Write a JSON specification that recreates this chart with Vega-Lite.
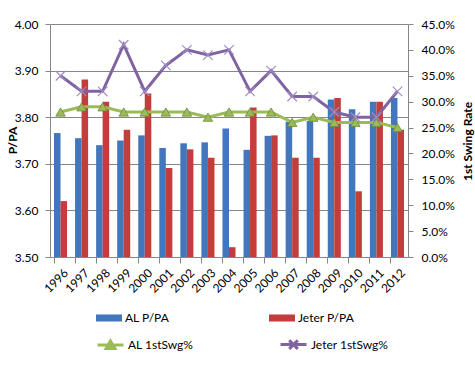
{
  "$schema": "https://vega.github.io/schema/vega-lite/v6.json",
  "width": 358,
  "height": 233,
  "autosize": "none",
  "padding": {"left": 50, "top": 24, "right": 67, "bottom": 109},
  "background": "white",
  "datasets": {
    "ppa": [
      {"year": "1996", "series": "AL P/PA", "value": 3.766}, {"year": "1996", "series": "Jeter P/PA", "value": 3.620},
      {"year": "1997", "series": "AL P/PA", "value": 3.755}, {"year": "1997", "series": "Jeter P/PA", "value": 3.881},
      {"year": "1998", "series": "AL P/PA", "value": 3.740}, {"year": "1998", "series": "Jeter P/PA", "value": 3.833},
      {"year": "1999", "series": "AL P/PA", "value": 3.750}, {"year": "1999", "series": "Jeter P/PA", "value": 3.773},
      {"year": "2000", "series": "AL P/PA", "value": 3.761}, {"year": "2000", "series": "Jeter P/PA", "value": 3.851},
      {"year": "2001", "series": "AL P/PA", "value": 3.734}, {"year": "2001", "series": "Jeter P/PA", "value": 3.691},
      {"year": "2002", "series": "AL P/PA", "value": 3.744}, {"year": "2002", "series": "Jeter P/PA", "value": 3.731},
      {"year": "2003", "series": "AL P/PA", "value": 3.746}, {"year": "2003", "series": "Jeter P/PA", "value": 3.713},
      {"year": "2004", "series": "AL P/PA", "value": 3.776}, {"year": "2004", "series": "Jeter P/PA", "value": 3.521},
      {"year": "2005", "series": "AL P/PA", "value": 3.730}, {"year": "2005", "series": "Jeter P/PA", "value": 3.821},
      {"year": "2006", "series": "AL P/PA", "value": 3.760}, {"year": "2006", "series": "Jeter P/PA", "value": 3.761},
      {"year": "2007", "series": "AL P/PA", "value": 3.790}, {"year": "2007", "series": "Jeter P/PA", "value": 3.713},
      {"year": "2008", "series": "AL P/PA", "value": 3.792}, {"year": "2008", "series": "Jeter P/PA", "value": 3.713},
      {"year": "2009", "series": "AL P/PA", "value": 3.838}, {"year": "2009", "series": "Jeter P/PA", "value": 3.841},
      {"year": "2010", "series": "AL P/PA", "value": 3.817}, {"year": "2010", "series": "Jeter P/PA", "value": 3.641},
      {"year": "2011", "series": "AL P/PA", "value": 3.833}, {"year": "2011", "series": "Jeter P/PA", "value": 3.833},
      {"year": "2012", "series": "AL P/PA", "value": 3.841}, {"year": "2012", "series": "Jeter P/PA", "value": 3.773}
    ],
    "swg": [
      {"year": "1996", "series": "AL 1stSwg%", "value": 0.28}, {"year": "1996", "series": "Jeter 1stSwg%", "value": 0.35},
      {"year": "1997", "series": "AL 1stSwg%", "value": 0.29}, {"year": "1997", "series": "Jeter 1stSwg%", "value": 0.32},
      {"year": "1998", "series": "AL 1stSwg%", "value": 0.29}, {"year": "1998", "series": "Jeter 1stSwg%", "value": 0.32},
      {"year": "1999", "series": "AL 1stSwg%", "value": 0.28}, {"year": "1999", "series": "Jeter 1stSwg%", "value": 0.41},
      {"year": "2000", "series": "AL 1stSwg%", "value": 0.28}, {"year": "2000", "series": "Jeter 1stSwg%", "value": 0.32},
      {"year": "2001", "series": "AL 1stSwg%", "value": 0.28}, {"year": "2001", "series": "Jeter 1stSwg%", "value": 0.37},
      {"year": "2002", "series": "AL 1stSwg%", "value": 0.28}, {"year": "2002", "series": "Jeter 1stSwg%", "value": 0.40},
      {"year": "2003", "series": "AL 1stSwg%", "value": 0.27}, {"year": "2003", "series": "Jeter 1stSwg%", "value": 0.39},
      {"year": "2004", "series": "AL 1stSwg%", "value": 0.28}, {"year": "2004", "series": "Jeter 1stSwg%", "value": 0.40},
      {"year": "2005", "series": "AL 1stSwg%", "value": 0.28}, {"year": "2005", "series": "Jeter 1stSwg%", "value": 0.32},
      {"year": "2006", "series": "AL 1stSwg%", "value": 0.28}, {"year": "2006", "series": "Jeter 1stSwg%", "value": 0.36},
      {"year": "2007", "series": "AL 1stSwg%", "value": 0.26}, {"year": "2007", "series": "Jeter 1stSwg%", "value": 0.31},
      {"year": "2008", "series": "AL 1stSwg%", "value": 0.27}, {"year": "2008", "series": "Jeter 1stSwg%", "value": 0.31},
      {"year": "2009", "series": "AL 1stSwg%", "value": 0.26}, {"year": "2009", "series": "Jeter 1stSwg%", "value": 0.28},
      {"year": "2010", "series": "AL 1stSwg%", "value": 0.26}, {"year": "2010", "series": "Jeter 1stSwg%", "value": 0.27},
      {"year": "2011", "series": "AL 1stSwg%", "value": 0.26}, {"year": "2011", "series": "Jeter 1stSwg%", "value": 0.27},
      {"year": "2012", "series": "AL 1stSwg%", "value": 0.25}, {"year": "2012", "series": "Jeter 1stSwg%", "value": 0.32}
    ]
  },
  "layer": [
    {
      "data": {"name": "ppa"},
      "mark": {"type": "bar"},
      "encoding": {
        "x": {
          "field": "year", "type": "nominal", "sort": null,
          "scale": {"paddingInner": 0.38, "paddingOuter": 0.19},
          "axis": {"title": null, "labelAngle": -45, "bandPosition": 0, "labelOffset": 2, "tickSize": 6, "labelPadding": 4, "grid": false}
        },
        "xOffset": {"field": "series", "type": "nominal", "sort": null, "scale": {"paddingInner": 0, "paddingOuter": 0}},
        "y": {
          "field": "value", "type": "quantitative",
          "scale": {"domain": [3.5, 4.0], "zero": false, "nice": false},
          "axis": {"orient": "left", "title": "P/PA", "values": [3.5, 3.6, 3.7, 3.8, 3.9, 4.0], "format": ".2f", "tickSize": 5, "labelPadding": 7, "grid": true, "titleAngle": 270, "titleX": -38, "titleY": 116, "titleAlign": "center", "titleBaseline": "middle"}
        },
        "y2": {"datum": 3.5},
        "fill": {
          "field": "series", "type": "nominal",
          "scale": {"domain": ["AL P/PA", "Jeter P/PA"], "range": ["#4277BD", "#C23D3B"]},
          "legend": {
            "title": null, "orient": "none", "legendX": 46, "legendY": 281, "direction": "horizontal", "columns": 2,
            "columnPadding": 99, "padding": 0, "symbolType": "M-1,-0.27H1V0.27H-1Z", "symbolSize": 676,
            "symbolStrokeWidth": 0, "labelOffset": 3
          }
        }
      }
    },
    {
      "data": {"name": "swg"},
      "encoding": {
        "x": {"field": "year", "type": "nominal", "sort": null},
        "y": {
          "field": "value", "type": "quantitative",
          "scale": {"domain": [0, 0.45], "nice": false},
          "axis": {"orient": "right", "title": "1st Swing Rate", "values": [0, 0.05, 0.1, 0.15, 0.2, 0.25, 0.3, 0.35, 0.4, 0.45], "format": ".1%", "tickSize": 5, "labelPadding": 8, "grid": false, "titleAngle": 270, "titleX": 59, "titleY": 117, "titleAlign": "center", "titleBaseline": "middle"}
        }
      },
      "layer": [
        {
          "mark": {"type": "line", "strokeWidth": 3},
          "encoding": {
            "stroke": {
              "field": "series", "type": "nominal",
              "scale": {"domain": ["AL 1stSwg%", "Jeter 1stSwg%"], "range": ["#9BBB59", "#8064A2"]},
              "legend": {
                "title": null, "orient": "none", "legendX": 46, "legendY": 306, "direction": "horizontal", "columns": 2,
                "columnPadding": 80, "padding": 0, "symbolSize": 676, "labelOffset": 3,
                "encode": {
                  "symbols": {
                    "update": {
                      "shape": {"signal": "datum.value === 'AL 1stSwg%' ? 'M-1,0H1M0,-0.32L0.34,0.26L-0.34,0.26Z' : 'M-1,0H1M-0.33,-0.33L0.33,0.33M-0.33,0.33L0.33,-0.33'"},
                      "fill": {"signal": "datum.value === 'AL 1stSwg%' ? '#9BBB59' : 'transparent'"},
                      "stroke": {"signal": "datum.value === 'AL 1stSwg%' ? '#9BBB59' : '#8064A2'"},
                      "strokeWidth": {"value": 3}
                    }
                  }
                }
              }
            }
          }
        },
        {
          "transform": [{"filter": "datum.series === 'AL 1stSwg%'"}],
          "mark": {"type": "point", "shape": "triangle-up", "filled": true, "fill": "#9BBB59", "stroke": "#6E8A3A", "strokeWidth": 0.8, "size": 90, "opacity": 1},
          "encoding": {}
        },
        {
          "transform": [{"filter": "datum.series === 'Jeter 1stSwg%'"}],
          "mark": {"type": "point", "shape": "M-1,-1L1,1M-1,1L1,-1", "filled": false, "stroke": "#A08CC6", "strokeWidth": 1.2, "size": 90, "opacity": 1},
          "encoding": {}
        }
      ]
    }
  ],
  "resolve": {"scale": {"y": "independent"}, "axis": {"y": "independent"}},
  "config": {
    "font": "Lato",
    "view": {"stroke": null},
    "axis": {
      "labelFont": "Lato", "labelFontSize": 12, "labelColor": "#000000",
      "titleFont": "Lato", "titleFontSize": 12, "titleFontWeight": "bold", "titleColor": "#000000",
      "domainColor": "#868686", "tickColor": "#868686", "gridColor": "#868686", "gridOpacity": 1
    },
    "legend": {"labelFont": "Lato", "labelFontSize": 12, "labelColor": "#000000"}
  }
}
